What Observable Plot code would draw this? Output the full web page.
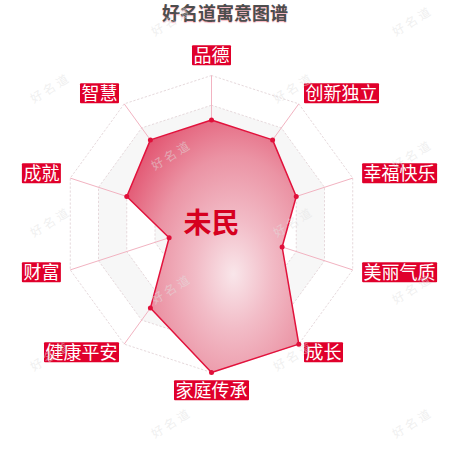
<!DOCTYPE html>
<html>
<head>
<meta charset="utf-8">
<script src="https://cdn.jsdelivr.net/npm/d3@7"></script>
<script src="https://cdn.jsdelivr.net/npm/@observablehq/plot@0.6"></script>
<style>
html, body { margin: 0; padding: 0; background: #fff; width: 450px; height: 450px; overflow: hidden; position: relative; }
#title { height: 24px; line-height: 25px; text-align: center; font-family: "Noto Sans CJK SC", sans-serif; font-size: 18px; font-weight: bold; color: #4d4d4d; text-shadow: 0 1px 1px rgba(224,0,43,0.3); overflow: visible; }
#chart svg { display: block; }
.wm { position: absolute; font-family: "Noto Sans CJK SC", sans-serif; font-size: 12px; letter-spacing: 3px; color: rgba(225,225,225,0.5); transform: translate(-50%, -50%) rotate(-32deg); pointer-events: none; white-space: nowrap; }
</style>
</head>
<body>
<div id="title"></div>
<div id="chart"></div>
<script>
const title = "好名道寓意图谱";
const centerName = "未民";
const watermarkText = "好名道";
const dimensions = ["品德", "创新独立", "幸福快乐", "美丽气质", "成长", "家庭传承", "健康平安", "财富", "成就", "智慧"];
const scores = [70, 70, 60, 50, 100, 100, 70, 30, 60, 70];
const maxScore = 100;
const ringLevels = [20, 40, 60, 80, 100];

document.getElementById("title").textContent = title;

const n = dimensions.length;
const angleOf = i => i * 2 * Math.PI / n;
const polar = (i, r) => ({x: Math.sin(angleOf(i)) * r, y: Math.cos(angleOf(i)) * r});

const points = scores.map((v, i) => ({name: dimensions[i], value: v, ...polar(i, v / maxScore)}));
const ringData = ringLevels.map((lvl, k) => ({
  level: lvl,
  fill: k % 2 === 1 ? "#f7f7f7" : "#ffffff",
  pts: dimensions.map((d, i) => ({level: lvl, ...polar(i, lvl / maxScore)}))
}));
const spokes = dimensions.map((d, i) => {
  const p = polar(i, 1);
  return {name: d, x1: 0, y1: 0, x2: p.x, y2: p.y};
});
const labelTable = dimensions.map((d, i) => {
  const s = Math.sin(angleOf(i)), c = Math.cos(angleOf(i));
  const side = Math.abs(s) < 0.01 ? "middle" : (s > 0 ? "start" : "end");
  const R = side === "middle" ? 1.128 : 1.077;
  return {name: d, x: s * R, y: c * R, side};
});

const gradDefs = () => {
  const ns = "http://www.w3.org/2000/svg";
  const defs = document.createElementNS(ns, "defs");
  const g = document.createElementNS(ns, "radialGradient");
  g.setAttribute("id", "areaGrad");
  g.setAttribute("cx", "0.62"); g.setAttribute("cy", "0.61"); g.setAttribute("r", "0.72");
  [["0", "#f9e6ea"], ["0.3", "#f2bcc7"], ["0.65", "#eb93a4"], ["1", "#e25470"]].forEach(([o, col]) => {
    const s = document.createElementNS(ns, "stop");
    s.setAttribute("offset", o); s.setAttribute("stop-color", col);
    g.appendChild(s);
  });
  defs.appendChild(g);
  return defs;
};

const bandMarks = ringData.slice().reverse().map(r =>
  Plot.line(r.pts, {x: "x", y: "y", curve: "linear-closed", fill: r.fill, stroke: "#e6d9dc", strokeWidth: 1, strokeDasharray: "1.5,2.5"})
);

const labelMark = side => Plot.text(labelTable.filter(d => d.side === side), {
  x: "x", y: "y", text: "name",
  textAnchor: side === "middle" ? "middle" : side,
  lineAnchor: "middle",
  fill: "white", fontSize: 18,
  ariaDescription: "axis-label"
});

const chart = Plot.plot({
  width: 450,
  height: 426,
  style: {fontFamily: '"Noto Sans CJK SC", sans-serif', background: "transparent", overflow: "visible"},
  x: {domain: [-1, 1], range: [62.5, 359.5], axis: null},
  y: {domain: [-1, 1], range: [348, 51], axis: null},
  marks: [
    gradDefs,
    ...bandMarks,
    Plot.link(spokes, {x1: "x1", y1: "y1", x2: "x2", y2: "y2", stroke: "#f2b3c1", strokeWidth: 1}),
    Plot.line(points, {x: "x", y: "y", curve: "linear-closed", fill: "url(#areaGrad)", stroke: "#e2123c", strokeWidth: 1.5}),
    Plot.dot(points, {x: "x", y: "y", r: 2.5, fill: "#e0103a", stroke: "none"}),
    Plot.text([centerName], {x: () => 0, y: () => 0, text: d => d, fontSize: 28, fontWeight: "bold", fill: "#d6001f", lineAnchor: "middle"}),
    labelMark("start"),
    labelMark("end"),
    labelMark("middle")
  ]
});
document.getElementById("chart").appendChild(chart);

// red boxes behind the axis names
chart.querySelectorAll('g[fill="white"] text').forEach(t => {
  const b = t.getBBox();
  const rect = document.createElementNS("http://www.w3.org/2000/svg", "rect");
  rect.setAttribute("x", b.x - 1.5);
  rect.setAttribute("y", b.y + b.height / 2 - 9);
  rect.setAttribute("width", b.width + 3);
  rect.setAttribute("height", 20);
  rect.setAttribute("fill", "#e0002b");
  rect.setAttribute("rx", 1);
  const tr = t.getAttribute("transform");
  if (tr) rect.setAttribute("transform", tr);
  t.parentNode.insertBefore(rect, t);
});

// faint tiled watermark, staggered pattern
for (let r = 0; r < 7; r++) {
  const cols = r % 2 === 0 ? [0.38, 0.915] : [0.11, 0.65];
  cols.forEach(fx => {
    const s = document.createElement("span");
    s.className = "wm";
    s.textContent = watermarkText;
    s.style.left = (fx * 450) + "px";
    s.style.top = (20 + r * 67) + "px";
    document.body.appendChild(s);
  });
}
</script>
</body>
</html>
